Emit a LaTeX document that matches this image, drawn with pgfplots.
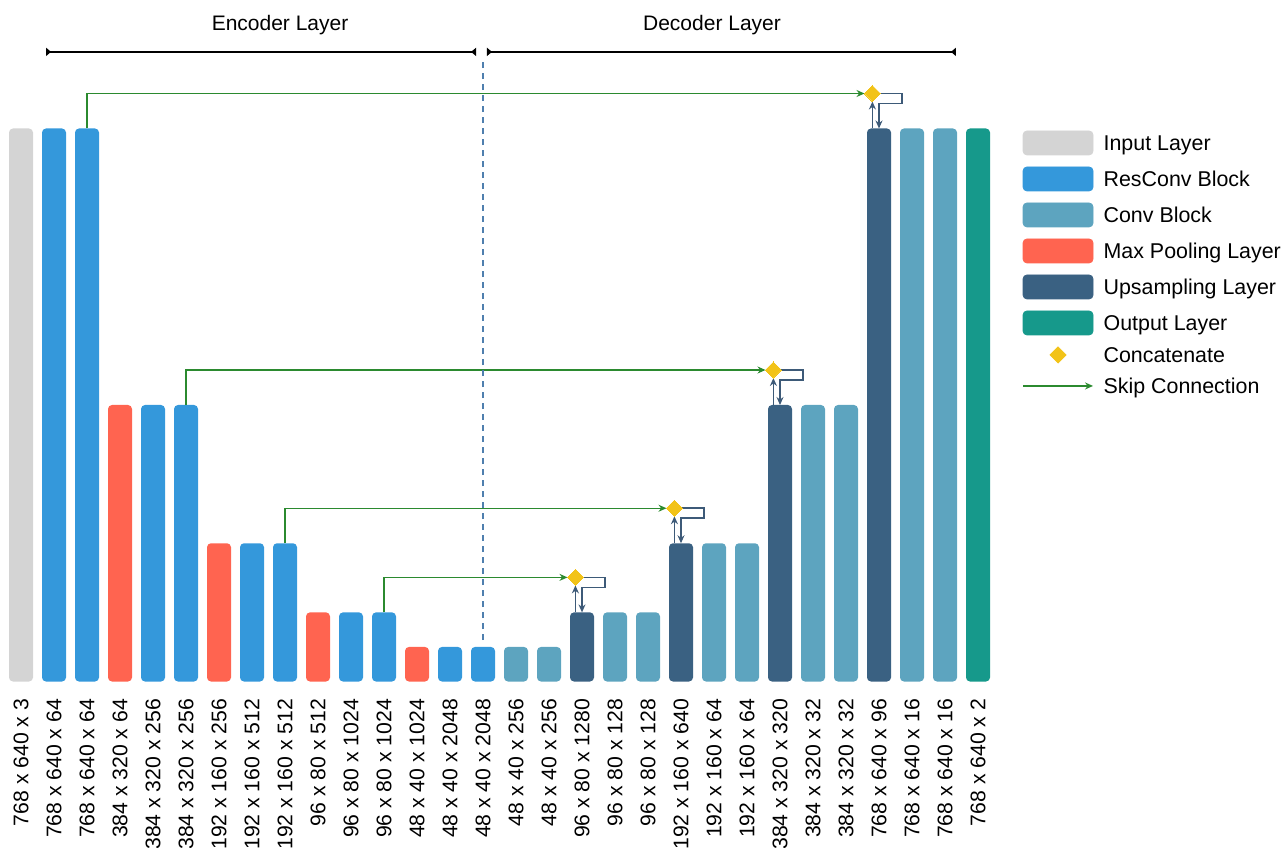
\documentclass[border=0pt]{standalone}
\usepackage{fontspec}
\setmainfont{Liberation Sans}
\usepackage{pgfplots}
\pgfplotsset{compat=1.18}
\usetikzlibrary{arrows.meta}

\definecolor{inputc}{HTML}{D4D4D4}
\definecolor{resc}{HTML}{3498DB}
\definecolor{convc}{HTML}{5DA4BF}
\definecolor{poolc}{HTML}{FF6450}
\definecolor{upc}{HTML}{3A6182}
\definecolor{outc}{HTML}{16998B}
\definecolor{catc}{HTML}{F2C318}
\definecolor{skipc}{HTML}{2B8A2F}
\definecolor{linkc}{HTML}{3D5A78}
\definecolor{dashc}{HTML}{4F7FAE}

\pgfplotsset{
  layer/.style={ybar, bar width=12pt, bar shift=0pt, draw=none, fill=#1,
    rounded corners=2pt, forget plot},
  skip/.style={skipc, line width=0.6pt, -{Stealth[length=4pt,width=3.5pt]}, forget plot},
  link/.style={linkc, line width=0.8pt, -{Stealth[length=4pt,width=3.5pt]}, forget plot},
  swatch/.style={legend image code/.code={
    \fill[#1, rounded corners=2pt] (0pt,-4.7pt) rectangle (35pt,7.3pt);}},
}

\begin{document}
\begin{tikzpicture}
\begin{axis}[
  at={(2.25pt,82.75pt)}, anchor=south west,
  scale only axis, width=495pt, height=276.5pt,
  xmin=0.5, xmax=30.5, ymin=0, ymax=768,
  clip=false,
  axis line style={draw=none}, tick style={draw=none},
  ytick=\empty,
  xtick={1,...,30},
  xticklabels={768 x 640 x 3, 768 x 640 x 64, 768 x 640 x 64, 384 x 320 x 64,
    384 x 320 x 256, 384 x 320 x 256, 192 x 160 x 256, 192 x 160 x 512,
    192 x 160 x 512, 96 x 80 x 512, 96 x 80 x 1024, 96 x 80 x 1024,
    48 x 40 x 1024, 48 x 40 x 2048, 48 x 40 x 2048, 48 x 40 x 256,
    48 x 40 x 256, 96 x 80 x 1280, 96 x 80 x 128, 96 x 80 x 128,
    192 x 160 x 640, 192 x 160 x 64, 192 x 160 x 64, 384 x 320 x 320,
    384 x 320 x 32, 384 x 320 x 32, 768 x 640 x 96, 768 x 640 x 16,
    768 x 640 x 16, 768 x 640 x 2},
  xticklabel style={rotate=90, anchor=east, inner sep=0pt,
    font=\fontsize{10.6}{12}\selectfont},
  xticklabel shift=8.5pt,
  legend style={at={(1.0278,0.997)}, anchor=north west, draw=none, fill=none,
    inner sep=0pt, row sep=5.5pt, column sep=5pt,
    font=\fontsize{10.7}{12}\selectfont,
    nodes={inner sep=0pt, text height=7.7pt, text depth=2.3pt}},
  legend cell align=left,
]
% bars, height = spatial size of the layer
\addplot[layer=inputc] coordinates {(1,768)};
\addplot[layer=resc] coordinates {(2,768) (3,768) (5,384) (6,384) (8,192) (9,192)
  (11,96) (12,96) (14,48) (15,48)};
\addplot[layer=poolc] coordinates {(4,384) (7,192) (10,96) (13,48)};
\addplot[layer=convc] coordinates {(16,48) (17,48) (19,96) (20,96) (22,192) (23,192)
  (25,384) (26,384) (28,768) (29,768)};
\addplot[layer=upc] coordinates {(18,96) (21,192) (24,384) (27,768)};
\addplot[layer=outc] coordinates {(30,768)};

% skip connections
\addplot[skip] coordinates {(3,768) (3,816.6) (26.56,816.6)};
\addplot[skip] coordinates {(6,384) (6,432.6) (23.56,432.6)};
\addplot[skip] coordinates {(9,192) (9,240.6) (20.56,240.6)};
\addplot[skip] coordinates {(12,96) (12,144.6) (17.56,144.6)};

% upsampling -> concatenate -> back down
\addplot[link] coordinates {(26.8,768) (26.8,805.5)};
\addplot[link] coordinates {(27.04,816.6) (27.7,816.6) (27.7,802.7) (27,802.7) (27,768)};
\addplot[link] coordinates {(23.8,384) (23.8,421.5)};
\addplot[link] coordinates {(24.04,432.6) (24.7,432.6) (24.7,418.7) (24,418.7) (24,384)};
\addplot[link] coordinates {(20.8,192) (20.8,229.5)};
\addplot[link] coordinates {(21.04,240.6) (21.7,240.6) (21.7,226.7) (21,226.7) (21,192)};
\addplot[link] coordinates {(17.8,96) (17.8,133.5)};
\addplot[link] coordinates {(18.04,144.6) (18.7,144.6) (18.7,130.7) (18,130.7) (18,96)};

% concatenate markers
\addplot[catc, only marks, mark=square*, mark size=2.83pt,
  mark options={rotate=45, fill=catc, draw=catc, line width=0pt},
  forget plot] coordinates {(26.8,816.6) (23.8,432.6) (20.8,240.6) (17.8,144.6)};

% encoder / decoder span and divider
\addplot[black, line width=1.3pt, {Triangle[reversed,length=2.5pt,width=4pt]}-{Triangle[reversed,length=2.5pt,width=4pt]},
  forget plot] coordinates {(1.76,874.4) (14.79,874.4)};
\addplot[black, line width=1.3pt, {Triangle[reversed,length=2.5pt,width=4pt]}-{Triangle[reversed,length=2.5pt,width=4pt]},
  forget plot] coordinates {(15.12,874.4) (29.33,874.4)};
\addplot[dashc, line width=0.6pt, dash pattern=on 3pt off 2.5pt, forget plot]
  coordinates {(15,57.6) (15,863.2)};

\node[font=\fontsize{10.5}{12}\selectfont] at (axis cs:8.85,911.9) {Encoder Layer};
\node[font=\fontsize{10.5}{12}\selectfont] at (axis cs:21.94,911.9) {Decoder Layer};

% legend
\addlegendimage{swatch=inputc}\addlegendentry{Input Layer}
\addlegendimage{swatch=resc}\addlegendentry{ResConv Block}
\addlegendimage{swatch=convc}\addlegendentry{Conv Block}
\addlegendimage{swatch=poolc}\addlegendentry{Max Pooling Layer}
\addlegendimage{swatch=upc}\addlegendentry{Upsampling Layer}
\addlegendimage{swatch=outc}\addlegendentry{Output Layer}
\addlegendimage{legend image code/.code={
  \fill[catc] (17.5pt,-2.7pt) -- (21.5pt,1.3pt) -- (17.5pt,5.3pt) -- (13.5pt,1.3pt) -- cycle;}}
\addlegendentry{Concatenate}
\addlegendimage{legend image code/.code={
  \draw[skipc, line width=0.6pt, -{Stealth[length=4pt,width=3.5pt]}] (0pt,1.3pt) -- (35pt,1.3pt);}}
\addlegendentry{Skip Connection}
\end{axis}
\pgfresetboundingbox
\path[use as bounding box] (0,0) rectangle (644pt,423.5pt);
\end{tikzpicture}
\end{document}
